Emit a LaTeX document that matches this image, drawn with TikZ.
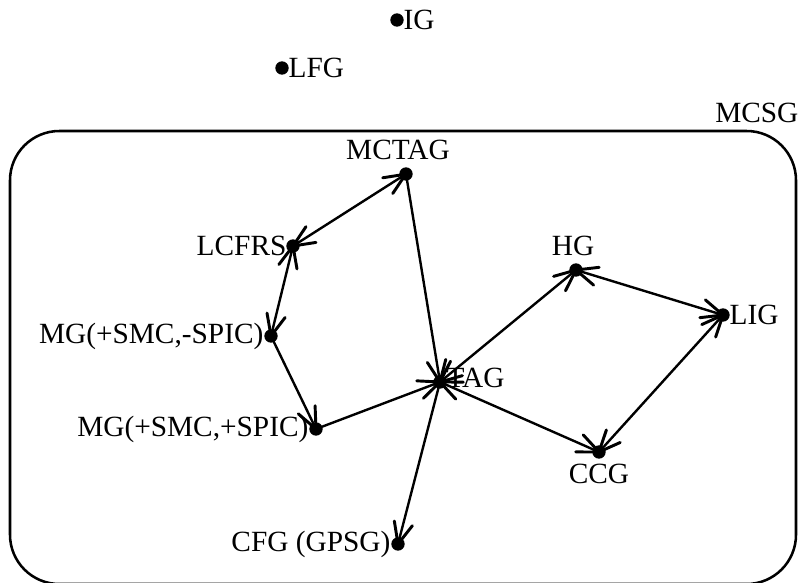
\documentclass[tikz,border=0pt]{standalone}
\usepackage{fontspec}
\setmainfont{Liberation Serif}
\usetikzlibrary{decorations.markings}
\begin{document}
\begin{tikzpicture}[x=0.75pt,y=0.75pt,
  dot/.style={circle,fill=black,inner sep=0pt,minimum size=10pt},
  lbl/.style={inner sep=1pt,font=\fontsize{22}{26}\selectfont},
  edge/.style={line width=1.8pt},
  barbpen/.style={line width=2.2pt,line cap=round,line join=round},
  tohead/.style={edge,postaction={decorate},
    decoration={markings,
      mark=at position 1 with {\draw[barbpen] (-16pt,7pt) -- (0,0) -- (-16pt,-7pt);}}},
  bothhead/.style={edge,postaction={decorate},
    decoration={markings,
      mark=at position 0 with {\draw[barbpen] (16pt,7pt) -- (0,0) -- (16pt,-7pt);},
      mark=at position 1 with {\draw[barbpen] (-16pt,7pt) -- (0,0) -- (-16pt,-7pt);}}}]
\useasboundingbox (0,0) rectangle (806,-582);

% outer class: mildly context-sensitive grammars
\begin{scope}
\clip (0,0) rectangle (806,-582);
\draw[line width=1.9pt,rounded corners=37pt] (10,-131) rectangle (796,-584);
\end{scope}
\node[lbl,anchor=east] (mcsg) at (800,-113) {MCSG};

% formalisms outside the class
\node[dot] (ig) at (397,-20) {};
\node[lbl,anchor=west] (igl) at (402,-20) {IG};
\node[dot] (lfg) at (282,-68) {};
\node[lbl,anchor=west] (lfgl) at (287,-68) {LFG};

% formalisms inside the class
\node[dot] (mctag) at (406,-174) {};
\node[lbl,anchor=center] at (398,-150) {MCTAG};
\node[dot] (lcfrs) at (293,-246) {};
\node[lbl,anchor=east] at (288,-246) {LCFRS};
\node[dot] (mgm) at (271,-336) {};
\node[lbl,anchor=east] at (265,-336) {MG(+SMC,-SPIC)};
\node[dot] (mgp) at (316,-429) {};
\node[lbl,anchor=east] at (310,-429) {MG(+SMC,+SPIC)};
\node[dot] (tag) at (440,-382) {};
\node[lbl,anchor=west] at (445,-378) {TAG};
\node[dot] (hg) at (576,-270) {};
\node[lbl,anchor=center] at (573,-246) {HG};
\node[dot] (lig) at (723,-315) {};
\node[lbl,anchor=west] at (728,-315) {LIG};
\node[dot] (ccg) at (599,-452) {};
\node[lbl,anchor=center] at (599,-474) {CCG};
\node[dot] (cfg) at (398,-544) {};
\node[lbl,anchor=east] at (392,-544) {CFG (GPSG)};

% relations
\draw[bothhead] (lcfrs.center) -- (mctag.center);
\draw[tohead] (mctag.center) -- (tag.center);
\draw[bothhead] (lcfrs.center) -- (mgm.center);
\draw[tohead] (mgm.center) -- (mgp.center);
\draw[tohead] (mgp.center) -- (tag.center);
\draw[bothhead] (tag.center) -- (hg.center);
\draw[bothhead] (hg.center) -- (lig.center);
\draw[bothhead] (lig.center) -- (ccg.center);
\draw[bothhead] (tag.center) -- (ccg.center);
\draw[tohead] (tag.center) -- (cfg.center);
\end{tikzpicture}
\end{document}
